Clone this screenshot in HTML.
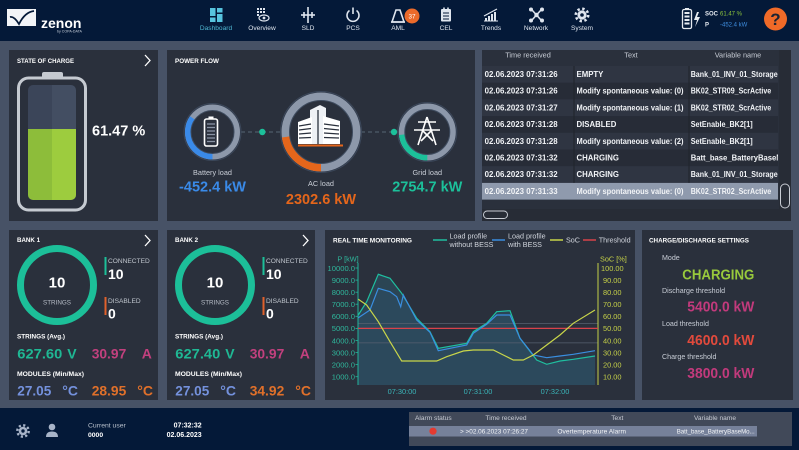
<!DOCTYPE html>
<html><head><meta charset="utf-8"><title>zenon Dashboard</title>
<style>
html,body{margin:0;padding:0;background:#475266;}
svg{display:block;font-family:"Liberation Sans",Arial,sans-serif;}
</style></head>
<body>
<svg width="799" height="450" viewBox="0 0 799 450" xmlns="http://www.w3.org/2000/svg">
<defs>
<clipPath id="battClip"><rect x="28" y="85" width="48" height="115" rx="5"/></clipPath>
<clipPath id="tblClip"><rect x="482" y="50" width="296" height="160"/></clipPath>
</defs>
<rect x="0" y="0" width="799" height="450" fill="#475266"/>
<rect x="0" y="0" width="799" height="41" fill="#041938"/>
<path d="M7 9 H36 V26 H7 Z" fill="#f2f4f7"/>
<path d="M10 17 Q14 16 19 24 Q25 12 34 11" stroke="#041938" stroke-width="1.8" fill="none"/>
<text x="41" y="28" font-size="14" font-weight="bold" fill="#ffffff">zenon</text>
<text x="57" y="32.5" font-size="3.6" fill="#c9d1dc">by COPA-DATA</text>

<g fill="#57c4de">
<rect x="210" y="8" width="5.5" height="8"/><rect x="217" y="8" width="5.5" height="4.5"/>
<rect x="217" y="14" width="5.5" height="8"/><rect x="210" y="17.5" width="5.5" height="4.5"/>
</g>
<g fill="#dfe5ee">
<rect x="257" y="8" width="2" height="2"/><rect x="260" y="8" width="2" height="2"/><rect x="263" y="8" width="2" height="2"/>
<rect x="257" y="11" width="2" height="2"/><rect x="260" y="11" width="2" height="2"/><rect x="263" y="11" width="2" height="2"/>
<rect x="257" y="14" width="2" height="2"/>
<ellipse cx="264" cy="18" rx="5" ry="3" fill="none" stroke="#dfe5ee" stroke-width="1.2"/>
<circle cx="264" cy="18" r="1.4"/>
</g>
<g stroke="#dfe5ee" stroke-width="1.6" fill="none">
<line x1="308" y1="7" x2="308" y2="23"/><line x1="301" y1="15" x2="315" y2="15"/>
<line x1="304" y1="12" x2="304" y2="18"/><line x1="312" y1="12" x2="312" y2="18"/>
<path d="M349.5 10.5 A6 6 0 1 0 356.5 10.5"/><line x1="353" y1="7.5" x2="353" y2="14"/>
<path d="M392 22 L396 10 L400 10 L404 22 Z"/><line x1="391" y1="22" x2="405" y2="22"/>
<rect x="441" y="9" width="10" height="12.5" rx="1" fill="#dfe5ee" stroke="none"/>
<line x1="443" y1="13" x2="449" y2="13" stroke="#041938" stroke-width="1"/>
<line x1="443" y1="16" x2="449" y2="16" stroke="#041938" stroke-width="1"/>
<line x1="443" y1="19" x2="449" y2="19" stroke="#041938" stroke-width="1"/>
<line x1="444" y1="7.5" x2="444" y2="10"/><line x1="448" y1="7.5" x2="448" y2="10"/>
<line x1="484" y1="21" x2="498" y2="21" stroke-width="1"/>
<line x1="484" y1="16" x2="497" y2="9" stroke-width="1.2"/>
<line x1="532" y1="10" x2="541" y2="20"/><line x1="541" y1="10" x2="532" y2="20"/>
</g>
<g fill="#dfe5ee">
<rect x="485" y="18" width="2" height="3"/><rect x="488" y="16" width="2" height="5"/>
<rect x="491" y="14" width="2" height="7"/><rect x="494" y="12" width="2" height="9"/>
<circle cx="531" cy="9.5" r="2"/><circle cx="542" cy="9.5" r="2"/><circle cx="531" cy="20.5" r="2"/><circle cx="542" cy="20.5" r="2"/><circle cx="536.5" cy="15" r="2.2"/>
<circle cx="582" cy="15" r="4.6"/>
<circle cx="582" cy="15" r="6.2" fill="none" stroke="#dfe5ee" stroke-width="2.6" stroke-dasharray="2.4 2.47"/>
<circle cx="582" cy="15" r="1.8" fill="#041938"/>
</g>
<circle cx="412" cy="16" r="7.5" fill="#ec6a2a"/>
<text x="412" y="18.3" font-size="6.3" fill="#fff" text-anchor="middle">37</text>
<g font-size="6.6" fill="#dfe5ee" text-anchor="middle">
<text x="216" y="30" fill="#4fb6d0">Dashboard</text>
<text x="262" y="30">Overview</text>
<text x="308" y="30">SLD</text>
<text x="353" y="30">PCS</text>
<text x="398" y="30">AML</text>
<text x="446" y="30">CEL</text>
<text x="491" y="30">Trends</text>
<text x="536" y="30">Network</text>
<text x="582" y="30">System</text>
</g>
<rect x="682.5" y="9.5" width="9" height="19" rx="1.5" fill="none" stroke="#e6eaf0" stroke-width="1.3"/>
<rect x="685" y="8" width="4" height="1.5" fill="#e6eaf0"/>
<g fill="#e6eaf0"><rect x="684.5" y="12" width="5" height="2"/><rect x="684.5" y="15.5" width="5" height="2"/><rect x="684.5" y="19" width="5" height="2"/><rect x="684.5" y="22.5" width="5" height="2"/></g>
<path d="M697 12 L694 20 L697 20 L695 27 L700 17 L697 17 L699 12 Z" fill="#e6eaf0"/>
<text x="705" y="15.5" font-size="6" font-weight="bold" fill="#e6eaf0">SOC</text>
<text x="720" y="15.5" font-size="6" fill="#8cc43c">61.47 %</text>
<text x="705" y="26.5" font-size="6" font-weight="bold" fill="#e6eaf0">P</text>
<text x="720" y="26.5" font-size="6" fill="#3f8ee0">-452.4 kW</text>
<circle cx="775.5" cy="19" r="11.5" fill="#f06a28"/>
<text x="775.5" y="25" font-size="17" font-weight="bold" fill="#1c2433" text-anchor="middle">?</text>

<g fill="#2a303c">
<rect x="9" y="50" width="149" height="171"/>
<rect x="167" y="50" width="308" height="171"/>
<rect x="482" y="50" width="309" height="171"/>
<rect x="9" y="230" width="149" height="170"/>
<rect x="167" y="230" width="148" height="170"/>
<rect x="325" y="230" width="310" height="170"/>
<rect x="642" y="230" width="151" height="170"/>
</g>

<text x="17" y="63" font-size="6.6" font-weight="bold" fill="#fff" textLength="57" lengthAdjust="spacingAndGlyphs">STATE OF CHARGE</text>
<polyline points="145,55 150,60.5 145,66" fill="none" stroke="#fff" stroke-width="1.3"/>
<rect x="42" y="72" width="21" height="7" rx="2" fill="#c5cad1"/>
<rect x="18.5" y="78" width="67" height="132" rx="10" fill="#2a303c" stroke="#c5cad1" stroke-width="3"/>
<g clip-path="url(#battClip)">
<rect x="28" y="85" width="24" height="115" fill="#3b4559"/>
<rect x="52" y="85" width="24" height="115" fill="#434e62"/>
<rect x="28" y="129" width="24" height="71" fill="#8dbd3a"/>
<rect x="52" y="129" width="24" height="71" fill="#9dcc3e"/>
</g>
<text x="92" y="135.5" font-size="14.5" font-weight="bold" fill="#fff">61.47 %</text>

<text x="175" y="63" font-size="6.6" font-weight="bold" fill="#fff" textLength="44" lengthAdjust="spacingAndGlyphs">POWER FLOW</text>
<line x1="241" y1="132" x2="281" y2="132" stroke="#4d5b68" stroke-width="1.2" stroke-dasharray="4 3"/>
<line x1="361" y1="132" x2="399" y2="132" stroke="#4d5b68" stroke-width="1.2" stroke-dasharray="4 3"/>
<circle cx="262.3" cy="132" r="3.2" fill="#1cc09a"/>
<circle cx="394" cy="132" r="3.2" fill="#1cc09a"/>
<circle cx="212.5" cy="132" r="28.5" fill="#2f3746" stroke="#3b475a" stroke-width="1"/>
<circle cx="212.5" cy="132" r="24.5" fill="none" stroke="#8d98aa" stroke-width="6"/>
<path d="M212.5 156.5 A24.5 24.5 0 0 1 192.43 117.94" fill="none" stroke="#3a8ae8" stroke-width="6"/>
<circle cx="212.5" cy="132" r="21.5" fill="#2a303c" stroke="#3e4b5e" stroke-width="1"/>
<rect x="208.5" y="116.5" width="5" height="2.5" fill="#fff"/>
<rect x="204.5" y="119" width="13" height="27" rx="2" fill="none" stroke="#fff" stroke-width="1.6"/>
<g stroke="#8a94a4" stroke-width="1.3"><line x1="207" y1="124" x2="215" y2="124"/><line x1="207" y1="127.5" x2="215" y2="127.5"/><line x1="207" y1="131" x2="215" y2="131"/><line x1="207" y1="134.5" x2="215" y2="134.5"/><line x1="207" y1="138" x2="215" y2="138"/><line x1="207" y1="141.5" x2="215" y2="141.5"/></g>
<circle cx="321" cy="132" r="40.5" fill="#2f3746" stroke="#3b475a" stroke-width="1"/>
<circle cx="321" cy="132" r="35.5" fill="none" stroke="#8d98aa" stroke-width="8"/>
<path d="M321 167.5 A35.5 35.5 0 0 1 285.85 136.94" fill="none" stroke="#e5661b" stroke-width="8"/>
<circle cx="321" cy="132" r="31.5" fill="#2a303c" stroke="#3e4b5e" stroke-width="1"/>
<g>
<polygon points="310,144 310,110 320,105 326,108 326,144" fill="#eef1f5"/>
<polygon points="298,144 298,122 312,117 312,144" fill="#fff"/>
<polygon points="323,144 323,116 340,121 340,144" fill="#fff"/>
<g stroke="#2a303c" stroke-width="1.3">
<line x1="299" y1="126" x2="311" y2="124"/><line x1="299" y1="130" x2="311" y2="128.5"/><line x1="299" y1="134" x2="311" y2="133"/><line x1="299" y1="138" x2="311" y2="137.5"/>
<line x1="324" y1="124" x2="339" y2="126"/><line x1="324" y1="128.5" x2="339" y2="130"/><line x1="324" y1="133" x2="339" y2="134"/><line x1="324" y1="137.5" x2="339" y2="138"/>
<line x1="318" y1="110" x2="318" y2="144"/>
</g>
<rect x="298" y="144.5" width="45" height="2" fill="#e5661b"/>
</g>
<circle cx="427.3" cy="132" r="29.5" fill="#2f3746" stroke="#3b475a" stroke-width="1"/>
<circle cx="427.3" cy="132" r="25.5" fill="none" stroke="#8d98aa" stroke-width="6"/>
<path d="M427.3 157.5 A25.5 25.5 0 0 1 401.94 134.66" fill="none" stroke="#1cc09a" stroke-width="6"/>
<circle cx="427.3" cy="132" r="22.5" fill="#2a303c" stroke="#3e4b5e" stroke-width="1"/>
<g stroke="#fff" stroke-width="1.6" fill="none">
<line x1="427" y1="117" x2="418" y2="145"/><line x1="427" y1="117" x2="436" y2="145"/>
<line x1="418" y1="122" x2="436" y2="122"/><line x1="414" y1="130" x2="440" y2="130"/>
<line x1="422" y1="130" x2="433" y2="141"/><line x1="432" y1="130" x2="421" y2="141"/>
</g>
<g text-anchor="middle">
<text x="212.5" y="175" font-size="7.3" fill="#c8cdd6">Battery load</text>
<text x="212.5" y="191.5" font-size="14.5" font-weight="bold" fill="#3a8ae8">-452.4 kW</text>
<text x="321" y="186" font-size="7.3" fill="#c8cdd6">AC load</text>
<text x="321" y="204" font-size="14.5" font-weight="bold" fill="#e5661b">2302.6 kW</text>
<text x="427.3" y="175" font-size="7.3" fill="#c8cdd6">Grid load</text>
<text x="427.3" y="191.5" font-size="14.5" font-weight="bold" fill="#1cc09a">2754.7 kW</text>
</g>

<g clip-path="url(#tblClip)">
<rect x="482" y="66" width="296" height="16.7" fill="#2f3542"/>
<rect x="482" y="82.7" width="296" height="16.7" fill="#272c37"/>
<rect x="482" y="99.4" width="296" height="16.7" fill="#2f3542"/>
<rect x="482" y="116.1" width="296" height="16.7" fill="#272c37"/>
<rect x="482" y="132.8" width="296" height="16.7" fill="#2f3542"/>
<rect x="482" y="149.5" width="296" height="16.7" fill="#272c37"/>
<rect x="482" y="166.2" width="296" height="16.7" fill="#2f3542"/>
<rect x="482" y="182.9" width="296" height="16.7" fill="#8f9aad"/>
<line x1="574" y1="66" x2="574" y2="182.9" stroke="#1f232b" stroke-width="1"/>
<line x1="689" y1="66" x2="689" y2="182.9" stroke="#1f232b" stroke-width="1"/>
<g font-size="7.3" fill="#c8cdd6" text-anchor="middle">
<text x="528" y="57.5">Time received</text>
<text x="631" y="57.5">Text</text>
<text x="738" y="57.5">Variable name</text>
</g>
<g font-size="7.8" font-weight="bold" fill="#f2f4f7">
<text x="484.7" y="77" textLength="73" lengthAdjust="spacingAndGlyphs">02.06.2023 07:31:26</text>
<text x="576.5" y="77">EMPTY</text>
<text x="690.7" y="77" textLength="87" lengthAdjust="spacingAndGlyphs">Bank_01_INV_01_Storage</text>
<text x="484.7" y="93.7" textLength="73" lengthAdjust="spacingAndGlyphs">02.06.2023 07:31:26</text>
<text x="576.5" y="93.7" textLength="107" lengthAdjust="spacingAndGlyphs">Modify spontaneous value: (0)</text>
<text x="690.7" y="93.7" textLength="80.5" lengthAdjust="spacingAndGlyphs">BK02_STR09_ScrActive</text>
<text x="484.7" y="110.4" textLength="73" lengthAdjust="spacingAndGlyphs">02.06.2023 07:31:27</text>
<text x="576.5" y="110.4" textLength="107" lengthAdjust="spacingAndGlyphs">Modify spontaneous value: (1)</text>
<text x="690.7" y="110.4" textLength="80.5" lengthAdjust="spacingAndGlyphs">BK02_STR02_ScrActive</text>
<text x="484.7" y="127.1" textLength="73" lengthAdjust="spacingAndGlyphs">02.06.2023 07:31:28</text>
<text x="576.5" y="127.1">DISABLED</text>
<text x="690.7" y="127.1" textLength="62" lengthAdjust="spacingAndGlyphs">SetEnable_BK2[1]</text>
<text x="484.7" y="143.8" textLength="73" lengthAdjust="spacingAndGlyphs">02.06.2023 07:31:28</text>
<text x="576.5" y="143.8" textLength="107" lengthAdjust="spacingAndGlyphs">Modify spontaneous value: (2)</text>
<text x="690.7" y="143.8" textLength="62" lengthAdjust="spacingAndGlyphs">SetEnable_BK2[1]</text>
<text x="484.7" y="160.5" textLength="73" lengthAdjust="spacingAndGlyphs">02.06.2023 07:31:32</text>
<text x="576.5" y="160.5">CHARGING</text>
<text x="690.7" y="160.5" textLength="92" lengthAdjust="spacingAndGlyphs">Batt_base_BatteryBaseM</text>
<text x="484.7" y="177.2" textLength="73" lengthAdjust="spacingAndGlyphs">02.06.2023 07:31:32</text>
<text x="576.5" y="177.2">CHARGING</text>
<text x="690.7" y="177.2" textLength="87" lengthAdjust="spacingAndGlyphs">Bank_01_INV_01_Storage</text>
<text x="484.7" y="193.9" textLength="73" lengthAdjust="spacingAndGlyphs">02.06.2023 07:31:33</text>
<text x="576.5" y="193.9" textLength="107" lengthAdjust="spacingAndGlyphs">Modify spontaneous value: (0)</text>
<text x="690.7" y="193.9" textLength="80.5" lengthAdjust="spacingAndGlyphs">BK02_STR02_ScrActive</text>
</g>
</g>
<rect x="779" y="50" width="12" height="171" fill="#272c36"/>
<rect x="482" y="209" width="297" height="12" fill="#272c36"/>
<rect x="780.5" y="184" width="9" height="24" rx="4.5" fill="none" stroke="#c8ccd4" stroke-width="1"/>
<rect x="483.5" y="211" width="24" height="7.5" rx="3.7" fill="none" stroke="#c8ccd4" stroke-width="1"/>

<!-- BANK 1 -->
<g>
<text x="17" y="242" font-size="6.6" font-weight="bold" fill="#fff" textLength="23" lengthAdjust="spacingAndGlyphs">BANK 1</text>
<polyline points="145,235 150,240.5 145,246" fill="none" stroke="#fff" stroke-width="1.3"/>
<circle cx="57" cy="285" r="36.5" fill="none" stroke="#1cbf99" stroke-width="7"/>
<text x="57" y="287.5" font-size="15" font-weight="bold" fill="#fff" text-anchor="middle">10</text>
<text x="57" y="304.5" font-size="6.3" fill="#b8bec8" text-anchor="middle">STRINGS</text>
<rect x="104.5" y="257" width="2" height="18" fill="#1cbf99"/>
<text x="108" y="263" font-size="6.6" fill="#c0c6ce">CONNECTED</text>
<text x="108" y="279" font-size="14" font-weight="bold" fill="#fff">10</text>
<rect x="104.5" y="297" width="2" height="18" fill="#e0612b"/>
<text x="108" y="303" font-size="6.6" fill="#c0c6ce">DISABLED</text>
<text x="108" y="318.5" font-size="14" font-weight="bold" fill="#fff">0</text>
<text x="17" y="338.5" font-size="6.6" font-weight="bold" fill="#fff" textLength="48" lengthAdjust="spacingAndGlyphs">STRINGS (Avg.)</text>
<g font-size="14" font-weight="bold">
<text x="17.3" y="358.3" fill="#1fb894" textLength="45" lengthAdjust="spacingAndGlyphs">627.60</text>
<text x="67.3" y="358.3" fill="#1fb894">V</text>
<text x="91.7" y="358.3" fill="#c2407e" textLength="34.6" lengthAdjust="spacingAndGlyphs">30.97</text>
<text x="141.7" y="358.3" fill="#c2407e">A</text>
</g>
<text x="17" y="375.8" font-size="6.6" font-weight="bold" fill="#fff" textLength="67" lengthAdjust="spacingAndGlyphs">MODULES (Min/Max)</text>
<g font-size="14" font-weight="bold">
<text x="17.3" y="395.7" fill="#7491dc" textLength="34" lengthAdjust="spacingAndGlyphs">27.05</text>
<text x="62.3" y="395.7" fill="#7491dc">°C</text>
<text x="91.7" y="395.7" fill="#e0702a" textLength="34.6" lengthAdjust="spacingAndGlyphs">28.95</text>
<text x="137.3" y="395.7" fill="#e0702a">°C</text>
</g>
</g>

<!-- BANK 2 -->
<g transform="translate(158,0)">
<text x="17" y="242" font-size="6.6" font-weight="bold" fill="#fff" textLength="23" lengthAdjust="spacingAndGlyphs">BANK 2</text>
<polyline points="145,235 150,240.5 145,246" fill="none" stroke="#fff" stroke-width="1.3"/>
<circle cx="57" cy="285" r="36.5" fill="none" stroke="#1cbf99" stroke-width="7"/>
<text x="57" y="287.5" font-size="15" font-weight="bold" fill="#fff" text-anchor="middle">10</text>
<text x="57" y="304.5" font-size="6.3" fill="#b8bec8" text-anchor="middle">STRINGS</text>
<rect x="104.5" y="257" width="2" height="18" fill="#1cbf99"/>
<text x="108" y="263" font-size="6.6" fill="#c0c6ce">CONNECTED</text>
<text x="108" y="279" font-size="14" font-weight="bold" fill="#fff">10</text>
<rect x="104.5" y="297" width="2" height="18" fill="#e0612b"/>
<text x="108" y="303" font-size="6.6" fill="#c0c6ce">DISABLED</text>
<text x="108" y="318.5" font-size="14" font-weight="bold" fill="#fff">0</text>
<text x="17" y="338.5" font-size="6.6" font-weight="bold" fill="#fff" textLength="48" lengthAdjust="spacingAndGlyphs">STRINGS (Avg.)</text>
<g font-size="14" font-weight="bold">
<text x="17.3" y="358.3" fill="#1fb894" textLength="45" lengthAdjust="spacingAndGlyphs">627.40</text>
<text x="67.3" y="358.3" fill="#1fb894">V</text>
<text x="91.7" y="358.3" fill="#c2407e" textLength="34.6" lengthAdjust="spacingAndGlyphs">30.97</text>
<text x="141.7" y="358.3" fill="#c2407e">A</text>
</g>
<text x="17" y="375.8" font-size="6.6" font-weight="bold" fill="#fff" textLength="67" lengthAdjust="spacingAndGlyphs">MODULES (Min/Max)</text>
<g font-size="14" font-weight="bold">
<text x="17.3" y="395.7" fill="#7491dc" textLength="34" lengthAdjust="spacingAndGlyphs">27.05</text>
<text x="62.3" y="395.7" fill="#7491dc">°C</text>
<text x="91.7" y="395.7" fill="#e0702a" textLength="34.6" lengthAdjust="spacingAndGlyphs">34.92</text>
<text x="137.3" y="395.7" fill="#e0702a">°C</text>
</g>
</g>

<!-- REAL TIME MONITORING -->
<text x="333" y="242.5" font-size="6.6" font-weight="bold" fill="#fff" textLength="79" lengthAdjust="spacingAndGlyphs">REAL TIME MONITORING</text>
<line x1="433" y1="240" x2="447" y2="240" stroke="#1fbfa0" stroke-width="1.5"/>
<text x="449.5" y="238.5" font-size="7.2" fill="#d0d4dc">Load profile</text>
<text x="449.5" y="247" font-size="7.2" fill="#d0d4dc">without BESS</text>
<line x1="492" y1="240" x2="505" y2="240" stroke="#3a8ee0" stroke-width="1.5"/>
<text x="508" y="238.5" font-size="7.2" fill="#d0d4dc">Load profile</text>
<text x="508" y="247" font-size="7.2" fill="#d0d4dc">with BESS</text>
<line x1="550" y1="240" x2="563" y2="240" stroke="#c9d64a" stroke-width="1.5"/>
<text x="566" y="242.5" font-size="7.2" fill="#d0d4dc">SoC</text>
<line x1="583" y1="240" x2="596" y2="240" stroke="#d8424a" stroke-width="1.5"/>
<text x="598.7" y="242.5" font-size="7.2" fill="#d0d4dc">Threshold</text>

<polygon fill="#2f7f92" fill-opacity="0.28" points="358.3,315 366.7,301.7 378.3,274.3 390,278.3 401.7,293.3 416.7,318.3 430,331.7 438.3,348.3 466.7,343.3 473.3,331.7 486.7,323.3 496.7,311.7 510,310.7 520,338.3 536.7,360 546.7,364.3 560,361 573.3,359.3 595,356 595,385 358.3,385"/>
<polygon fill="#3a6e9a" fill-opacity="0.12" points="358.3,317.7 370,310 378.3,288.3 390,291.7 396.7,296.7 400.7,306.7 403.3,295 416.7,320 430,332.3 438.3,350.7 466.7,345 473.3,333.3 486.7,324.3 496.7,315 510,315 520,338.3 533.3,355 546.7,357.7 560,356 573.3,354.3 595,350.7 595,385 358.3,385"/>
<line x1="358" y1="323.6" x2="598" y2="323.6" stroke="#56606f" stroke-width="0.7"/>
<line x1="358" y1="342.9" x2="598" y2="342.9" stroke="#56606f" stroke-width="0.7"/>
<line x1="358" y1="263" x2="358" y2="385" stroke="#22b59a" stroke-width="1"/>
<line x1="598" y1="263" x2="598" y2="385" stroke="#c4cf48" stroke-width="1"/>
<g stroke="#22b59a" stroke-width="0.8">
<line x1="355.5" y1="268" x2="358" y2="268"/><line x1="355.5" y1="280.1" x2="358" y2="280.1"/><line x1="355.5" y1="292.2" x2="358" y2="292.2"/><line x1="355.5" y1="304.2" x2="358" y2="304.2"/><line x1="355.5" y1="316.3" x2="358" y2="316.3"/><line x1="355.5" y1="328.4" x2="358" y2="328.4"/><line x1="355.5" y1="340.5" x2="358" y2="340.5"/><line x1="355.5" y1="352.6" x2="358" y2="352.6"/><line x1="355.5" y1="364.6" x2="358" y2="364.6"/><line x1="355.5" y1="376.7" x2="358" y2="376.7"/>
</g>
<g font-size="7.6" fill="#2fb79c" text-anchor="end">
<text x="355" y="270.8">10000.0</text>
<text x="355" y="282.9">9000.0</text>
<text x="355" y="295">8000.0</text>
<text x="355" y="307">7000.0</text>
<text x="355" y="319.1">6000.0</text>
<text x="355" y="331.2">5000.0</text>
<text x="355" y="343.3">4000.0</text>
<text x="355" y="355.4">3000.0</text>
<text x="355" y="367.4">2000.0</text>
<text x="355" y="379.5">1000.0</text>
</g>
<text x="348" y="261.5" font-size="7.3" fill="#2fb79c" text-anchor="middle">P [kW]</text>
<text x="600" y="261.5" font-size="7.3" fill="#c4cf48">SoC [%]</text>
<g font-size="7.4" fill="#c4cf48">
<text x="601" y="270.8">100.00</text>
<text x="603" y="282.9">90.00</text>
<text x="603" y="295">80.00</text>
<text x="603" y="307">70.00</text>
<text x="603" y="319.1">60.00</text>
<text x="603" y="331.2">50.00</text>
<text x="603" y="343.3">40.00</text>
<text x="603" y="355.4">30.00</text>
<text x="603" y="367.4">20.00</text>
<text x="603" y="379.5">10.00</text>
</g>
<g font-size="7.4" fill="#3ab4b8" text-anchor="middle">
<text x="402" y="394">07:30:00</text>
<text x="478" y="394">07:31:00</text>
<text x="555" y="394">07:32:00</text>
</g>
<line x1="358" y1="328.4" x2="598" y2="328.4" stroke="#d8424a" stroke-width="1.3"/>
<polyline fill="none" stroke="#1fbfa0" stroke-width="1.2" points="358.3,315 366.7,301.7 378.3,274.3 390,278.3 401.7,293.3 416.7,318.3 430,331.7 438.3,348.3 466.7,343.3 473.3,331.7 486.7,323.3 496.7,311.7 510,310.7 520,338.3 536.7,360 546.7,364.3 560,361 573.3,359.3 595,356"/>
<polyline fill="none" stroke="#3a8ee0" stroke-width="1.2" points="358.3,317.7 370,310 378.3,288.3 390,291.7 396.7,296.7 400.7,306.7 403.3,295 416.7,320 430,332.3 438.3,350.7 466.7,345 473.3,333.3 486.7,324.3 496.7,315 510,315 520,338.3 533.3,355 546.7,357.7 560,356 573.3,354.3 595,350.7"/>
<polyline fill="none" stroke="#c9d64a" stroke-width="1.2" points="358.3,299.3 366.7,305 378.3,321.7 390,341.7 401.7,361 436.7,361 446.7,356.7 463.3,351 473.3,350 493.3,350 503.3,355 513.3,360 523.3,360 533.3,355 546.7,345 560,335 573.3,323.3 595,310"/>

<!-- CHARGE/DISCHARGE SETTINGS -->
<text x="649" y="242.5" font-size="6.6" font-weight="bold" fill="#fff" textLength="100" lengthAdjust="spacingAndGlyphs">CHARGE/DISCHARGE SETTINGS</text>
<g font-size="7.1" fill="#c8cdd6">
<text x="662" y="260">Mode</text>
<text x="662" y="293">Discharge threshold</text>
<text x="662" y="326">Load threshold</text>
<text x="662" y="359">Charge threshold</text>
</g>
<g font-weight="bold" text-anchor="end">
<text x="754.3" y="279.5" font-size="14.5" fill="#98c93c" textLength="72" lengthAdjust="spacingAndGlyphs">CHARGING</text>
<text x="754.3" y="311.5" font-size="14.5" fill="#c23a7c" textLength="67" lengthAdjust="spacingAndGlyphs">5400.0 kW</text>
<text x="754.3" y="345" font-size="14.5" fill="#e24a3c" textLength="67" lengthAdjust="spacingAndGlyphs">4600.0 kW</text>
<text x="754.3" y="378" font-size="14.5" fill="#c23a7c" textLength="67" lengthAdjust="spacingAndGlyphs">3800.0 kW</text>
</g>

<!-- bottom bar -->
<rect x="0" y="408" width="799" height="42" fill="#041938"/>
<g fill="#a8b4c8">
<circle cx="23" cy="431" r="4.3"/>
<circle cx="23" cy="431" r="5.7" fill="none" stroke="#a8b4c8" stroke-width="2.4" stroke-dasharray="2.2 2.27"/>
<circle cx="23" cy="431" r="1.7" fill="#041938"/>
<circle cx="52" cy="427" r="3.3"/>
<path d="M46 437 Q46 431.5 52 431.5 Q58 431.5 58 437 Z"/>
</g>
<text x="88" y="427.5" font-size="6.8" fill="#b8c0cc">Current user</text>
<text x="88" y="436.8" font-size="6.8" font-weight="bold" fill="#fff">0000</text>
<text x="201.7" y="427.5" font-size="7" font-weight="bold" fill="#fff" text-anchor="end">07:32:32</text>
<text x="201.7" y="436.8" font-size="7" font-weight="bold" fill="#fff" text-anchor="end">02.06.2023</text>
<rect x="409" y="412" width="383" height="34" fill="#414959"/>
<g font-size="6.6" fill="#c8ccd4" text-anchor="middle">
<text x="433.3" y="420">Alarm status</text>
<text x="506" y="420">Time received</text>
<text x="617.3" y="420">Text</text>
<text x="715" y="420">Variable name</text>
</g>
<rect x="409" y="426" width="348" height="10.5" fill="#76819a"/>
<circle cx="433" cy="431.2" r="3.6" fill="#e53a30"/>
<g font-size="6.6" fill="#f2f4f7">
<text x="460" y="433.6" textLength="68" lengthAdjust="spacingAndGlyphs">&gt; &gt;02.06.2023 07:26:27</text>
<text x="591.7" y="433.6" text-anchor="middle">Overtemperature Alarm</text>
<text x="676.7" y="433.6" textLength="78" lengthAdjust="spacingAndGlyphs">Batt_base_BatteryBaseMo...</text>
</g>
</svg>
</body></html>
